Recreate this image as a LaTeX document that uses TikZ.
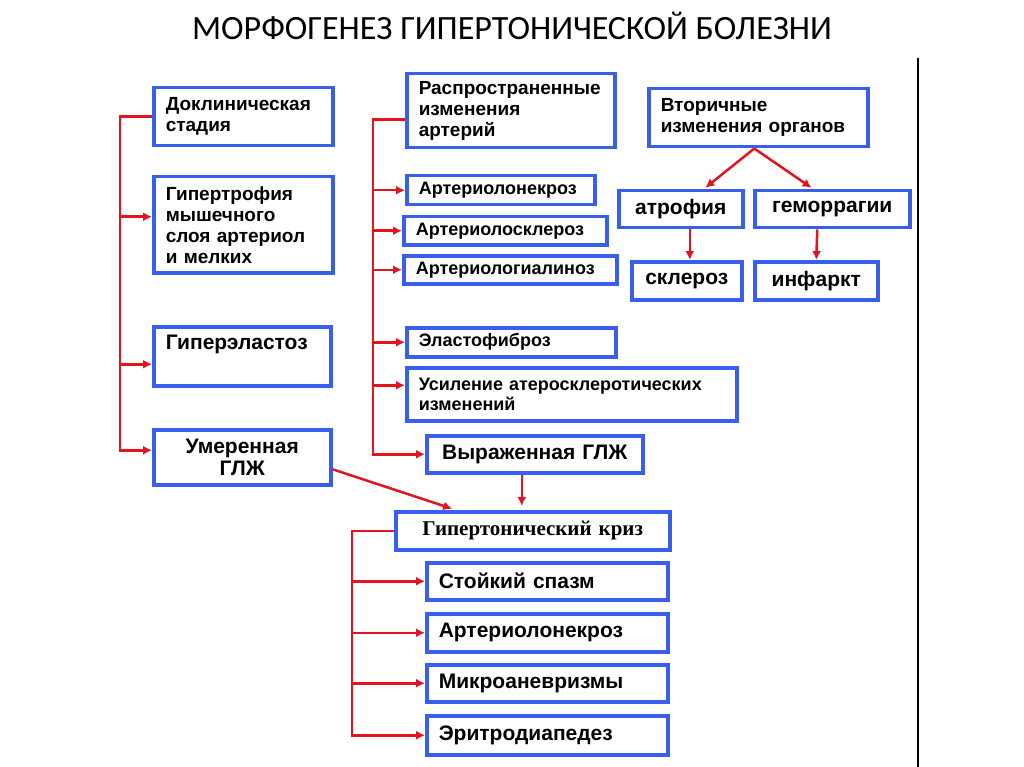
\documentclass[tikz,border=0pt]{standalone}
\usepackage{fontspec}
\setmainfont{Liberation Sans}
\newfontfamily\titlefont{Carlito}
\newfontfamily\crisisfont{Liberation Serif}
\usetikzlibrary{arrows.meta}
\definecolor{boxblue}{RGB}{55,95,235}
\definecolor{linkred}{RGB}{228,20,30}
\tikzset{
  box/.style={draw=boxblue, line width=3.5pt, fill=white, anchor=north west,
    inner xsep=12pt, inner ysep=2pt, align=left,
    font=\bfseries\fontsize{21}{22}\selectfont},
  cbox/.style={box, align=center},
  smalltext/.style={font=\bfseries\fontsize{18}{20}\selectfont},
  midtext/.style={font=\bfseries\fontsize{19}{21}\selectfont},
  link/.style={draw=linkred, line width=2.5pt, -{Latex[length=9pt,width=9pt]}}
}
\begin{document}
\begin{tikzpicture}[x=1pt,y=-1pt]
\useasboundingbox (0,0) rectangle (1024,767);
\node[font=\titlefont\fontsize{34}{40}\selectfont] (title) at (512,26) {МОРФОГЕНЕЗ ГИПЕРТОНИЧЕСКОЙ БОЛЕЗНИ};
\draw[line width=1.5pt] (918,58) -- (918,767);
% left column
\node[box, midtext, text width=155pt, minimum height=58pt] (preclin) at (152,86) {Доклиническая\\стадия};
\node[box, midtext, text width=155pt, minimum height=96pt] (hypertr) at (152,175) {Гипертрофия\\мышечного\\слоя артериол\\и мелких};
\node[box, text width=153pt, minimum height=59pt] (hyperel) at (152,325) {Гиперэластоз\\\strut};
\node[cbox, text width=153pt, minimum height=55pt] (lvhmod) at (152,428) {Умеренная\\ГЛЖ};
\draw[link] (preclin.west) -- ++(-32,0) |- ([yshift=8pt]hypertr.west);
\draw[link] (preclin.west) -- ++(-32,0) |- ([yshift=-8pt]hyperel.west);
\draw[link] (preclin.west) -- ++(-32,0) |- ([yshift=7pt]lvhmod.west);
% middle column
\node[box, midtext, text width=184pt, minimum height=74pt] (arteries) at (405,72) {Распространенные\\изменения\\артерий};
\node[box, smalltext, text width=164pt, minimum height=29pt] (anecr) at (405,174) {Артериолонекроз};
\node[box, smalltext, text width=179pt, minimum height=28pt] (ascler) at (402,215) {Артериолосклероз};
\node[box, smalltext, text width=189pt, minimum height=28pt] (ahyal) at (402,254) {Артериологиалиноз};
\node[box, smalltext, text width=185pt, minimum height=29pt] (elastof) at (405,326) {Эластофиброз};
\node[box, smalltext, text width=306pt, minimum height=53pt] (athero) at (405,366) {Усиление атеросклеротических\\изменений};
\node[cbox, text width=192pt, minimum height=37pt] (lvhsev) at (425,434) {Выраженная ГЛЖ};
\foreach \n in {anecr,ascler,ahyal,elastof,lvhsev}
  \draw[link] ([yshift=-9pt]arteries.west) -- ++(-32,0) |- (\n.west);
\draw[link] ([yshift=-9pt]arteries.west) -- ++(-32,0) |- ([yshift=9pt]athero.west);
% right part
\node[box, midtext, text width=195pt, minimum height=58pt] (secondary) at (647,87) {Вторичные\\изменения органов};
\node[cbox, text width=100pt, minimum height=37pt] (atrophy) at (617,189) {атрофия};
\node[cbox, text width=131pt, minimum height=37pt] (hemorr) at (753,189) {геморрагии};
\node[cbox, text width=86pt, minimum height=38pt] (sclerosis) at (630,260) {склероз};
\node[cbox, text width=99pt, minimum height=38pt] (infarct) at (753,260) {инфаркт};
\draw[link, shorten >=2pt] ([xshift=-4pt]secondary.south) -- ([xshift=23pt]atrophy.north);
\draw[link, shorten >=2pt] ([xshift=-4pt]secondary.south) -- ([xshift=-19pt]hemorr.north);
\draw[link] ([xshift=9pt]atrophy.south) -- ([xshift=3pt]sclerosis.north);
\draw[link] ([xshift=-15pt]hemorr.south) -- (infarct.north);
% crisis
\node[cbox, text width=250pt, minimum height=38pt, font=\crisisfont\bfseries\fontsize{21}{22}\selectfont] (crisis) at (394,510) {Гипертонический криз};
\node[box, text width=217pt, minimum height=37pt] (spasm) at (425,561) {Стойкий спазм};
\node[box, text width=217pt, minimum height=38pt] (anecrb) at (425,612) {Артериолонекроз};
\node[box, text width=217pt, minimum height=37pt] (microan) at (425,663) {Микроаневризмы};
\node[box, text width=217pt, minimum height=39pt] (erythro) at (425,714) {Эритродиапедез};
\foreach \n in {spasm,anecrb,microan,erythro}
  \draw[link] (crisis.west) -- ++(-42,0) |- (\n.west);
\draw[link, shorten >=4pt] ([yshift=-12pt]lvhmod.east) -- ([xshift=62pt]crisis.north west);
\draw[link, shorten >=4pt] ([xshift=-13pt]lvhsev.south) -- ([xshift=-11pt]crisis.north);
\end{tikzpicture}
\end{document}
